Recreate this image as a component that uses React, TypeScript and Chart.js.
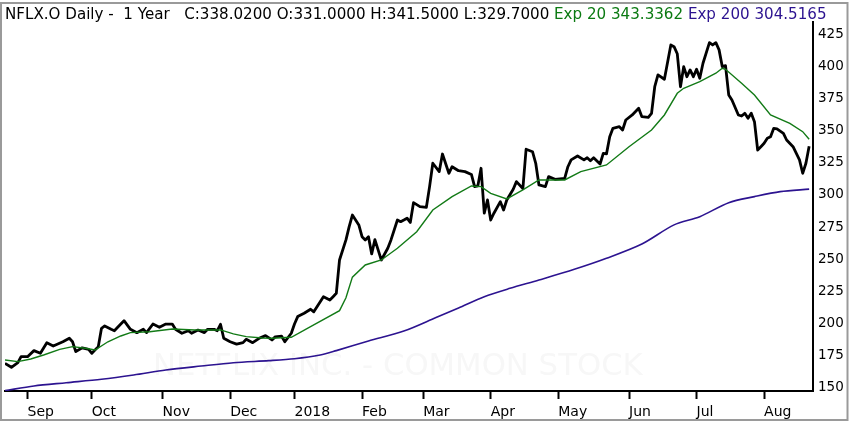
import React, { useEffect, useRef } from "react";
import { Chart, registerables } from "chart.js";

Chart.register(...registerables);

const FONT = '"DejaVu Sans", "Lucida Grande", Verdana, sans-serif';

// x = trading-day index (0 = 23 Aug 2017 ... 250 = 21 Aug 2018)
const monthTickIdx = [7, 27, 49, 70, 90, 111, 130, 151, 172, 194, 215, 236];
const monthTickLabels = ["Sep", "Oct", "Nov", "Dec", "2018", "Feb", "Mar", "Apr", "May", "Jun", "Jul", "Aug"];
const priceTicks = [150, 175, 200, 225, 250, 275, 300, 325, 350, 375, 400, 425];

const closeIdx = [
  0, 2, 4, 5, 7, 9, 11, 13, 15, 18, 20, 21, 22, 24, 26, 27, 29, 30, 31, 33, 34, 36, 37, 39, 41, 43, 44, 46, 48, 50,
  52, 53, 55, 57, 58, 60, 62, 63, 65, 66, 67, 68, 70, 72, 74, 75, 77, 79, 81, 83, 84, 86, 87, 89, 90, 91, 93, 95, 96, 98,
  99, 101, 102, 103, 104, 106, 107, 108, 110, 111, 112, 113, 114, 115, 116, 117, 119, 120, 122, 123, 124, 125, 126, 127,
  129, 131, 132, 133, 135, 136, 138, 139, 141, 143, 145, 146, 147, 148, 149, 150, 151, 152, 154, 155, 156, 158, 159, 161,
  162, 164, 165, 166, 168, 169, 171, 174, 175, 176, 178, 180, 181, 182, 183, 185, 186, 187, 188, 189, 191, 192, 193, 195,
  197, 198, 200, 201, 202, 203, 205, 207, 208, 209, 210, 211, 212, 213, 214, 215, 216, 217, 219, 220, 221, 222, 223, 224,
  225, 226, 228, 229, 230, 231, 232, 233, 234, 235, 236, 237, 238, 239, 240, 242, 243, 245, 247, 248, 249, 250,
];
const closeVal = [
  168.9, 165.8, 169.4, 174.1, 174.1, 178.8, 176.7, 185, 182.4, 185.7, 188.4, 185.7, 178, 181, 179.8, 176.7, 181.9, 196.2,
  198, 195.4, 194.3, 199.5, 202.1, 195.4, 192.8, 195.4, 192.8, 199.5, 197, 199.5,
  199.5, 195.4, 192.3, 194.3, 192.3, 194.8, 192.8, 195.4, 195.4, 194.3, 199.3, 188.4, 185.7, 183.9, 185, 187.6, 185,
  188.4, 190.5, 187.1, 189.5, 190, 185.7, 192.3, 199.5, 205.3, 207.9, 211, 209, 216.9,
  220.8, 218.2, 220.8, 223.4, 249.4, 265, 275.3, 284.4, 276.7, 267.5, 265, 267.5, 254.1, 265.2, 257.2, 249.4, 258.5, 265,
  280.5, 279.2, 280.5, 281.9, 278.6, 294,
  290.9, 290.4, 306.5, 324.7, 318.2, 331.9, 316.9, 322, 318.9, 318.2, 316, 306.5, 307, 320.8, 285.8, 296.1, 280.5, 285.8,
  294.8, 288.3, 296.1, 304.4, 310.4, 305,
  335.6, 333.7, 324.7, 307.8, 306.5, 314.3, 312.2, 313, 322, 327.3, 330.4, 327.3, 329, 326.7, 329, 324.1, 332.4, 332,
  345.4, 351.9, 353.2, 350.6, 358.4, 362.3,
  367.5, 361, 360.5, 363.6, 384.3, 393.5, 390.1, 416.8, 415.5, 410, 384.3, 399.9, 392.1, 397.4, 392.1, 397.9, 390.9,
  402.6, 418.6, 416.8, 418.6, 413, 399.9, 400.7,
  377.9, 374, 362.3, 361.5, 363.6, 359.7, 363.6, 357.1, 335, 337.6, 340.3, 344.2, 345.4, 351.9, 351.5, 348, 342.8,
  337.6, 327.3, 316.9, 324.7, 338.02,
];

const ema20Idx = [
  0, 4, 8, 12, 17, 21, 25, 28, 32, 36, 39, 45, 52, 59, 67, 71, 75, 80, 83, 86, 89, 95, 104, 106, 108, 112, 117, 122,
  128, 133, 139, 145, 148, 151, 156, 161, 166, 170, 174, 179, 187, 194, 201, 205, 209, 211, 216, 221, 223, 224, 229,
  233, 238, 244, 248, 250,
];
const ema20Val = [
  171.5, 170.2, 172.3, 175.4, 179.8, 181.9, 180.6, 179.3, 185.7, 190.2, 192.8, 193.5, 195.6, 194.9, 194.9, 191.8, 189.7,
  188.6, 188.4, 188.8, 189.2, 197.4, 209.9, 220, 236, 245.5, 249.4, 258.5,
  271.4, 288.3, 298.7, 307, 306.5, 301.3, 296.9, 303.9, 311.7, 311.7, 311.7, 318.2, 323.4, 337.6, 350.6, 362.3, 379.2,
  383.1, 388.2, 394.8, 398.7, 397.9, 387,
  377.9, 362.3, 355.8, 349.3, 343.34,
];

const ema200Idx = [
  0, 9, 19, 30, 40, 50, 61, 71, 82, 90, 98, 103, 113, 124, 134, 141, 149, 157, 166, 177, 187, 198, 208, 216, 225, 233,
  241, 250,
];
const ema200Val = [
  147.6, 151.3, 153.8, 156.5, 159.8, 163.7, 166.8, 169.4, 171, 172.5, 175.4, 178.8, 186.3, 194, 204.5, 212, 220.8,
  227.3, 233.8, 242.1, 250.7, 261.8, 276.7, 283.1, 294, 298.7, 302.6, 304.52,
];

const headerParts = [
  { text: "NFLX.O Daily -  1 Year   C:338.0200 O:331.0000 H:341.5000 L:329.7000 ", color: "#000000" },
  { text: "Exp 20 343.3362 ", color: "#0b7a12" },
  { text: "Exp 200 304.5165", color: "#2c1390" },
];
const watermarkText = "NETFLIX INC. - COMMON STOCK";

const pairs = (xs: number[], ys: number[]) => xs.map((x, i) => ({ x, y: ys[i] }));

const decorPlugin = {
  id: "decor",
  beforeDatasetsDraw(chart: any) {
    const ctx = chart.ctx;
    ctx.save();
    let size = 26;
    ctx.font = `${size}px ${FONT}`;
    const w = ctx.measureText(watermarkText).width;
    size = (size * 490) / w;
    ctx.font = `${size}px ${FONT}`;
    ctx.fillStyle = "#f7f7f7";
    ctx.textBaseline = "alphabetic";
    ctx.textAlign = "left";
    ctx.fillText(watermarkText, 153, 374.5);
    ctx.restore();
  },
  afterDraw(chart: any) {
    const ctx = chart.ctx;
    ctx.save();
    // header
    let size = 15;
    ctx.font = `${size}px ${FONT}`;
    const total = headerParts.reduce((s, p) => s + ctx.measureText(p.text).width, 0);
    size = (size * 822) / total;
    ctx.font = `${size}px ${FONT}`;
    ctx.textBaseline = "alphabetic";
    ctx.textAlign = "left";
    let x = 5;
    for (const p of headerParts) {
      ctx.fillStyle = p.color;
      ctx.fillText(p.text, x, 19);
      x += ctx.measureText(p.text).width;
    }
    // frame
    ctx.strokeStyle = "#9a9a9a";
    ctx.lineWidth = 2;
    ctx.strokeRect(1, 3, 846.5, 417);
    ctx.restore();
  },
};

export default function App() {
  const ref = useRef<HTMLCanvasElement>(null);
  useEffect(() => {
    document.body.style.margin = "0";
    const canvas = ref.current!;
    const chart = new Chart(canvas, {
      type: "line",
      data: {
        datasets: [
          {
            data: pairs(ema20Idx, ema20Val),
            borderColor: "#127a16",
            borderWidth: 1.4,
            pointRadius: 0,
            tension: 0,
            fill: false,
          },
          {
            data: pairs(ema200Idx, ema200Val),
            borderColor: "#2c1390",
            borderWidth: 1.6,
            pointRadius: 0,
            tension: 0.3,
            fill: false,
          },
          {
            data: pairs(closeIdx, closeVal),
            borderColor: "#000000",
            borderWidth: 2.8,
            pointRadius: 0,
            tension: 0,
            fill: false,
            borderJoinStyle: "round",
          },
        ],
      },
      options: {
        responsive: false,
        animation: false,
        events: [],
        layout: { padding: { left: 5, top: 22, right: 0, bottom: 0 } },
        plugins: { legend: { display: false }, tooltip: { enabled: false }, title: { display: false } },
        scales: {
          x: {
            type: "linear",
            min: 0,
            max: 251.2,
            afterBuildTicks: (s: any) => {
              s.ticks = monthTickIdx.map((v) => ({ value: v }));
            },
            afterFit: (s: any) => {
              s.height = 33;
            },
            grid: { drawOnChartArea: false, drawTicks: true, tickLength: 8, tickWidth: 2, tickColor: "#000" },
            border: { display: true, color: "#000", width: 2 },
            ticks: {
              align: "start",
              padding: 5,
              color: "#000",
              maxRotation: 0,
              autoSkip: false,
              font: { family: FONT, size: 14 },
              callback: (v: any) => {
                const i = monthTickIdx.indexOf(Number(v));
                return i >= 0 ? monthTickLabels[i] : "";
              },
            },
          },
          y: {
            type: "linear",
            position: "right",
            min: 147.35,
            max: 434.7,
            afterBuildTicks: (s: any) => {
              s.ticks = priceTicks.map((v) => ({ value: v }));
            },
            afterFit: (s: any) => {
              s.width = 37;
            },
            grid: { drawOnChartArea: false, drawTicks: false },
            border: { display: true, color: "#000", width: 2 },
            ticks: {
              padding: 5,
              color: "#000",
              font: { family: FONT, size: 13.5 },
              callback: (v: any) => String(v),
            },
          },
        },
      },
      plugins: [decorPlugin],
    } as any);
    return () => chart.destroy();
  }, []);
  return (
    <div style={{ width: 850, height: 424, position: "relative", background: "#fff" }}>
      <canvas ref={ref} width={850} height={424} style={{ display: "block", width: 850, height: 424 }} />
    </div>
  );
}
